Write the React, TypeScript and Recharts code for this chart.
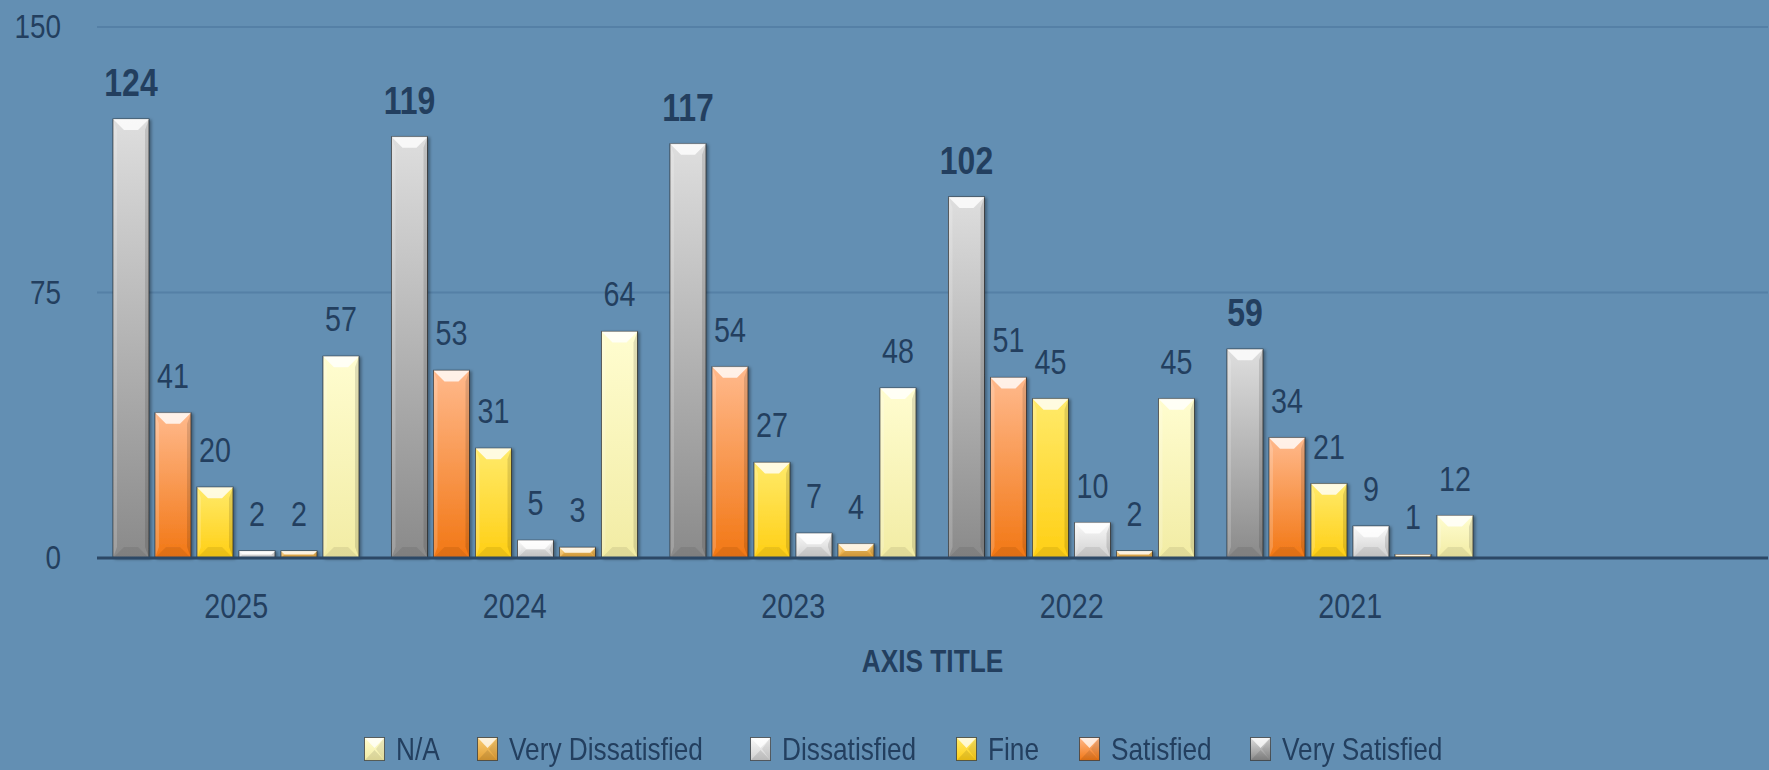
import { BarChart, Bar, XAxis, YAxis, CartesianGrid, LabelList } from 'recharts';

const YEARS = ['2025', '2024', '2023', '2022', '2021', ''];
const VERY_SATISFIED = [124, 119, 117, 102, 59, null];
const SATISFIED = [41, 53, 54, 51, 34, null];
const FINE = [20, 31, 27, 45, 21, null];
const DISSATISFIED = [2, 5, 7, 10, 9, null];
const VERY_DISSATISFIED = [2, 3, 4, 2, 1, null];
const NOT_APPLICABLE = [57, 64, 48, 45, 12, null];
const Y_TICKS = [0, 75, 150];

// Liberation Sans squeezed horizontally stands in for a narrow face
const FONT = "'Liberation Sans', Arial, sans-serif";
const NARROW = 0.82;
const TEXT = '#233f5f';
const BG = '#638fb3';

// bar order inside a group (left -> right)
const SERIES = [
  { key: 'vs', name: 'Very Satisfied', values: VERY_SATISFIED, top: '#dedede', bottom: '#8a8a8a', bold: true },
  { key: 's', name: 'Satisfied', values: SATISFIED, top: '#ffb98c', bottom: '#f27714', bold: false },
  { key: 'f', name: 'Fine', values: FINE, top: '#ffea6a', bottom: '#ffcf14', bold: false },
  { key: 'd', name: 'Dissatisfied', values: DISSATISFIED, top: '#fafafa', bottom: '#cfcfcf', bold: false },
  { key: 'vd', name: 'Very Dissatisfied', values: VERY_DISSATISFIED, top: '#f9cc74', bottom: '#e29f34', bold: false },
  { key: 'na', name: 'N/A', values: NOT_APPLICABLE, top: '#fffdd0', bottom: '#f2eca4', bold: false },
];

// legend reads right-to-left of the bar order
const LEGEND_ORDER = ['na', 'vd', 'd', 'f', 's', 'vs'];
const LEGEND_X = [364, 477, 750, 956, 1079, 1250];

const data = YEARS.map((year, i) => {
  const row: Record<string, string | number | null> = { year };
  SERIES.forEach((s) => {
    row[s.key] = s.values[i];
  });
  return row;
});

function NarrowText({ x, y, anchor = 'middle', size = 32, bold = false, children }: any) {
  return (
    <text
      transform={`translate(${x},${y}) scale(${NARROW},1)`}
      x={0}
      y={0}
      textAnchor={anchor}
      fontFamily={FONT}
      fontSize={size}
      fontWeight={bold ? 700 : 400}
      fill={TEXT}
    >
      {children}
    </text>
  );
}

function BevelBar(props: any) {
  const { x, y, width: w, height: h, gradId } = props;
  if (h == null || h <= 0 || w <= 0) return null;
  const b = Math.min(11, h / 2, w / 2);
  const s = Math.min(4, h / 2);
  return (
    <g filter="url(#barShadow)">
      <rect x={x} y={y} width={w} height={h} fill={`url(#${gradId})`} stroke="rgba(40,40,40,0.75)" strokeWidth={1} />
      <polygon points={`${x},${y} ${x + s},${y + b} ${x + s},${y + h - b} ${x},${y + h}`} fill="#fff" opacity={0.18} />
      <polygon points={`${x + w},${y} ${x + w - s},${y + b} ${x + w - s},${y + h - b} ${x + w},${y + h}`} fill="#000" opacity={0.12} />
      <polygon points={`${x},${y + h} ${x + w},${y + h} ${x + w - b},${y + h - b} ${x + b},${y + h - b}`} fill="#000" opacity={0.08} />
      <polygon points={`${x},${y} ${x + w},${y} ${x + w - b},${y + b} ${x + b},${y + b}`} fill="#fff" opacity={0.8} />
    </g>
  );
}

function makeLabel(bold: boolean) {
  return (p: any) => {
    if (p.value == null) return null;
    return (
      <NarrowText x={p.x + p.width / 2} y={p.y - (bold ? 23 : 25)} size={bold ? 39 : 35} bold={bold}>
        {p.value}
      </NarrowText>
    );
  };
}

function YTick(props: any) {
  const { x, y, payload } = props;
  return (
    <NarrowText x={x - 36} y={y + 11} anchor="end" size={34}>
      {payload.value}
    </NarrowText>
  );
}

function XTick(props: any) {
  const { x, y, payload } = props;
  return (
    <NarrowText x={x} y={y + 60} size={35}>
      {payload.value}
    </NarrowText>
  );
}

function AxisTitle(props: any) {
  const vb = props.viewBox;
  return (
    <NarrowText x={vb.x + vb.width / 2} y={vb.y + 114} bold>
      AXIS TITLE
    </NarrowText>
  );
}

function LegendMarker({ top, bottom }: { top: string; bottom: string }) {
  return (
    <svg width={21} height={24} style={{ position: 'absolute', left: 0, top: 0 }}>
      <defs>
        <linearGradient id={`lg-${top}`} x1="0" y1="0" x2="0" y2="1">
          <stop offset="0%" stopColor={top} />
          <stop offset="100%" stopColor={bottom} />
        </linearGradient>
      </defs>
      <rect x={0.5} y={0.5} width={20} height={23} fill={`url(#lg-${top})`} stroke="rgba(50,50,50,0.7)" />
      <polygon points="1,1 20,1 10.5,11" fill="#fff" opacity={0.75} />
      <polygon points="1,23 20,23 10.5,13" fill="#000" opacity={0.1} />
      <polygon points="20,1 20,23 12,12" fill="#000" opacity={0.08} />
    </svg>
  );
}

export default function App() {
  return (
    <div style={{ position: 'absolute', left: 0, top: 0, width: 1769, height: 770, background: BG, overflow: 'hidden' }}>
      <BarChart
        width={1769}
        height={770}
        data={data}
        margin={{ top: 27, right: 1, bottom: 92, left: 0 }}
        barCategoryGap={16}
        barGap={6}
      >
        <defs>
          {SERIES.map((s) => (
            <linearGradient key={s.key} id={`grad-${s.key}`} x1="0" y1="0" x2="0" y2="1">
              <stop offset="0%" stopColor={s.top} />
              <stop offset="100%" stopColor={s.bottom} />
            </linearGradient>
          ))}
          <filter id="barShadow" x="-20%" y="-5%" width="150%" height="115%">
            <feDropShadow dx="2" dy="1" stdDeviation="1.5" floodColor="#000" floodOpacity="0.35" />
          </filter>
        </defs>
        <CartesianGrid vertical={false} stroke="#5580a6" strokeWidth={2} />
        <XAxis
          dataKey="year"
          height={120}
          tickLine={false}
          tickSize={0}
          tickMargin={0}
          axisLine={{ stroke: '#2c4866', strokeWidth: 3 }}
          tick={<XTick />}
          interval={0}
          label={<AxisTitle />}
        />
        <YAxis
          width={97}
          domain={[0, 150]}
          ticks={Y_TICKS}
          axisLine={false}
          tickLine={false}
          tickSize={0}
          tickMargin={0}
          tick={<YTick />}
        />
        {SERIES.map((s) => (
          <Bar
            key={s.key}
            dataKey={s.key}
            name={s.name}
            isAnimationActive={false}
            shape={(p: any) => <BevelBar {...p} gradId={`grad-${s.key}`} />}
          >
            <LabelList dataKey={s.key} content={makeLabel(s.bold)} />
          </Bar>
        ))}
      </BarChart>
      {LEGEND_ORDER.map((k, i) => {
        const s = SERIES.find((item) => item.key === k)!;
        return (
          <div key={k} style={{ position: 'absolute', left: LEGEND_X[i], top: 737, height: 24 }}>
            <LegendMarker top={s.top} bottom={s.bottom} />
            <span
              style={{
                position: 'absolute',
                left: 32,
                top: -8,
                fontFamily: FONT,
                fontSize: 32,
                color: TEXT,
                whiteSpace: 'nowrap',
                lineHeight: '40px',
                display: 'inline-block',
                transform: `scaleX(${NARROW})`,
                transformOrigin: 'left center',
              }}
            >
              {s.name}
            </span>
          </div>
        );
      })}
    </div>
  );
}
